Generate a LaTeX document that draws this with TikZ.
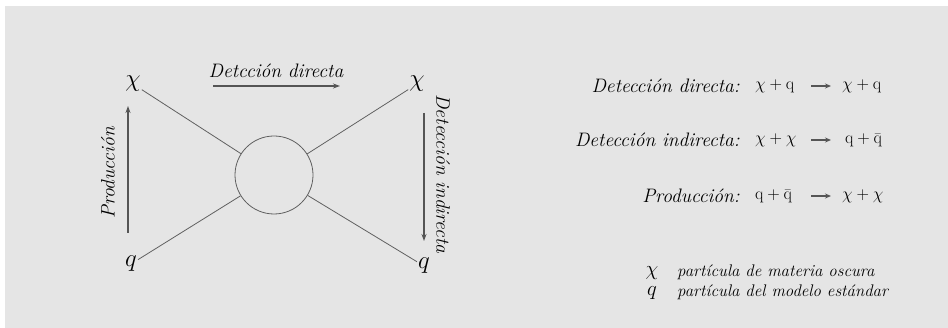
\documentclass[tikz,border=0pt]{standalone}
\usetikzlibrary{arrows.meta}
\definecolor{bggray}{HTML}{E5E5E5}
\definecolor{linegray}{HTML}{606060}
\definecolor{arrgray}{HTML}{555555}
\begin{document}
\begin{tikzpicture}[x=1pt,y=-1pt,
  txt/.style={inner sep=0pt,font=\fontsize{19.5}{22}\selectfont},
  eq/.style={inner sep=0pt,font=\fontsize{19}{22}\selectfont},
  particle/.style={inner sep=1pt,font=\fontsize{23}{26}\selectfont},
  leg/.style={inner sep=0pt,font=\fontsize{16.8}{19}\selectfont},
  legsym/.style={inner sep=0pt,font=\fontsize{20}{22}\selectfont},
  thinline/.style={draw=linegray,line width=0.8pt},
  flow/.style={draw=arrgray,line width=1.3pt,-{Stealth[length=7pt,width=5pt]}},
  eqarrow/.style={draw=arrgray,line width=1.3pt,-{Stealth[length=6pt,width=5pt]}}]
\useasboundingbox (0,0) rectangle (948,328);
\fill[bggray] (5,6) rectangle (948,328);
% particles
\node[particle] (chiL) at (133,84) {$\chi$};
\node[particle] (qL) at (131,264) {$q$};
\node[particle] (chiR) at (417,84) {$\chi$};
\node[particle] (qR) at (424,266) {$q$};
\node[circle,thinline,minimum size=78pt,inner sep=0pt] (blob) at (274,175) {};
\draw[thinline] (chiL) -- (blob);
\draw[thinline] (qL) -- (blob);
\draw[thinline] (chiR) -- (blob);
\draw[thinline] (qR) -- (blob);
% flow arrows
\coordinate (t1) at (213,86); \coordinate (t2) at (340,86);
\draw[flow] (t1) -- (t2);
\node[txt] (lt) at (276,71) {\itshape Detcción directa};
\coordinate (l1) at (128,233); \coordinate (l2) at (128,106);
\draw[flow] (l1) -- (l2);
\node[txt,rotate=90] (ll) at (108,173) {\itshape Producción};
\coordinate (r1) at (424,113); \coordinate (r2) at (424,241);
\draw[flow] (r1) -- (r2);
\node[txt,rotate=-90] (lr) at (443,174) {\itshape Detección indirecta};
% equations
\node[txt,anchor=east] (e1) at (740,86) {\itshape Detección directa:};
\node[eq,anchor=west] (e1l) at (755,86) {$\chi+\mathrm{q}$};
\node[eq,anchor=west] (e1r) at (842,86) {$\chi+\mathrm{q}$};
\coordinate (a1s) at (811,86); \coordinate (a1e) at (831,86);
\draw[eqarrow] (a1s) -- (a1e);
\node[txt,anchor=east] (e2) at (740,140) {\itshape Detección indirecta:};
\node[eq,anchor=west] (e2l) at (755,140) {$\chi+\chi$};
\node[eq,anchor=west] (e2r) at (845,140) {$\mathrm{q}+\bar{\mathrm{q}}$};
\coordinate (a2s) at (811,140); \coordinate (a2e) at (831,140);
\draw[eqarrow] (a2s) -- (a2e);
\node[txt,anchor=east] (e3) at (740,196) {\itshape Producción:};
\node[eq,anchor=west] (e3l) at (755,196) {$\mathrm{q}+\bar{\mathrm{q}}$};
\node[eq,anchor=west] (e3r) at (842,196) {$\chi+\chi$};
\coordinate (a3s) at (811,196); \coordinate (a3e) at (831,196);
\draw[eqarrow] (a3s) -- (a3e);
% legend
\node[legsym] (s1) at (652,273) {$\chi$};
\node[leg,anchor=west] (d1) at (677,272) {\itshape partícula de materia oscura};
\node[legsym] (s2) at (652,293) {$q$};
\node[leg,anchor=west] (d2) at (677,292) {\itshape partícula del modelo estándar};
\end{tikzpicture}
\end{document}
